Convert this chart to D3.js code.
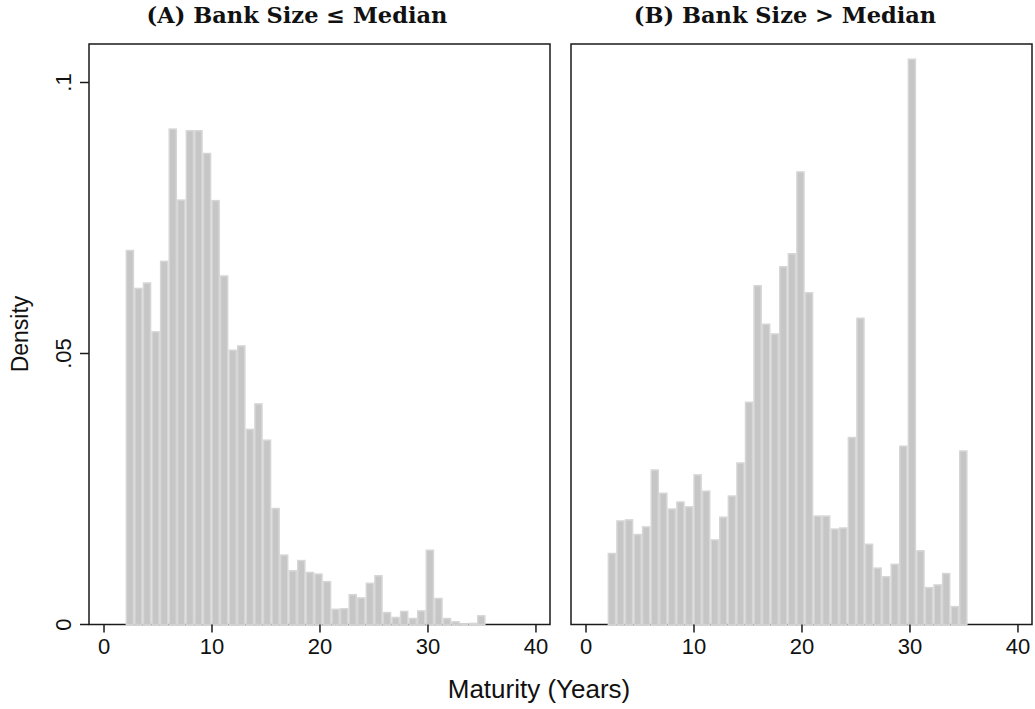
<!DOCTYPE html>
<html>
<head>
<meta charset="utf-8">
<script src="https://cdn.jsdelivr.net/npm/d3@7"></script>
<style>
  body { margin: 0; background: #fff; }
  svg { display: block; }
  .tick-label { font-family: "Liberation Sans", Arial, sans-serif; font-size: 22px; fill: #111; }
  .axis-title { font-family: "Liberation Sans", Arial, sans-serif; font-size: 23px; fill: #111; }
  .panel-title { font-family: "DejaVu Serif", "Liberation Serif", serif; font-weight: bold; font-size: 22.5px; fill: #111; }
</style>
</head>
<body>
<div id="chart"></div>
<script>
// histogram of loan maturity, 42 bins starting at 2 years
const binStart = 2;
const binWidth = 0.7937;

const densitySmall = [0.069, 0.062, 0.063, 0.054, 0.067, 0.0914, 0.0783, 0.0911, 0.0911, 0.0869,
                      0.0782, 0.0643, 0.0506, 0.0514, 0.036, 0.0407, 0.034, 0.0214, 0.0128, 0.0099,
                      0.0118, 0.0096, 0.0093, 0.0079, 0.0028, 0.0029, 0.0055, 0.0049, 0.0076, 0.009,
                      0.0022, 0.0013, 0.0024, 0.0011, 0.0025, 0.0137, 0.0048, 0.0011, 0.0005, 0.0001,
                      0.0002, 0.0016];

const densityLarge = [0.0131, 0.0191, 0.0193, 0.0166, 0.018, 0.0285, 0.0242, 0.0213, 0.0226, 0.0217,
                      0.0276, 0.0246, 0.0156, 0.0198, 0.0237, 0.0298, 0.041, 0.0625, 0.0554, 0.0536,
                      0.066, 0.0684, 0.0835, 0.0612, 0.02, 0.02, 0.0176, 0.0178, 0.0345, 0.0565,
                      0.0148, 0.0104, 0.0088, 0.0111, 0.0329, 0.1043, 0.0136, 0.0068, 0.0073, 0.0094,
                      0.0033, 0.032];

const xTicks = [0, 10, 20, 30, 40];
const yTicks = [0, 0.05, 0.1];
const yTickLabels = ["0", ".05", ".1"];
const panelTitles = ["(A) Bank Size \u2264 Median", "(B) Bank Size > Median"];

const width = 1035, height = 709;
const frameTop = 44, frameBottom = 624.5;

const svg = d3.select('#chart')
              .append('svg')
              .attr('width', width)
              .attr('height', height);

const y = d3.scaleLinear()
            .domain([0, 0.1])
            .range([frameBottom, 82.5]);

const panels = [
    {left: 89, right: 550, titleX: 297, values: densitySmall, yAxis: true},
    {left: 571, right: 1032, titleX: 785, values: densityLarge, yAxis: false}
];

panels.forEach(function(p, pi) {
    const x = d3.scaleLinear()
                .domain([-1.39, 41.3])
                .range([p.left, p.right]);

    const g = svg.append('g');

    // frame
    g.append('rect')
        .attr('x', p.left)
        .attr('y', frameTop)
        .attr('width', p.right - p.left)
        .attr('height', frameBottom - frameTop)
        .style('fill', 'none')
        .style('stroke', '#1a1a1a')
        .style('stroke-width', 1.5);

    const bins = p.values.map(function(v, i) {
        return {x0: binStart + i * binWidth, x1: binStart + (i + 1) * binWidth, value: v};
    });

    g.selectAll()
        .data(bins)
        .enter()
        .append('rect')
            .attr('x', function(d) { return x(d.x0) + 0.75; })
            .attr('y', function(d) { return y(d.value); })
            .attr('width', function(d) { return x(d.x1) - x(d.x0) - 1.5; })
            .attr('height', function(d) { return frameBottom - y(d.value) + 0.5; })
            .style('fill', '#c6c6c6')
            .style('stroke', '#d6d6d6')
            .style('stroke-width', 1.5);

    // x ticks
    g.selectAll()
        .data(xTicks)
        .enter()
        .append('line')
            .attr('x1', function(d) { return x(d); })
            .attr('x2', function(d) { return x(d); })
            .attr('y1', frameBottom)
            .attr('y2', frameBottom + 8)
            .style('stroke', '#1a1a1a')
            .style('stroke-width', 1.5);

    g.selectAll()
        .data(xTicks)
        .enter()
        .append('text')
            .attr('class', 'tick-label')
            .attr('x', function(d) { return x(d); })
            .attr('y', 654)
            .attr('text-anchor', 'middle')
            .text(function(d) { return d; });

    if (p.yAxis) {
        g.selectAll()
            .data(yTicks)
            .enter()
            .append('line')
                .attr('x1', p.left - 9)
                .attr('x2', p.left)
                .attr('y1', function(d) { return y(d); })
                .attr('y2', function(d) { return y(d); })
                .style('stroke', '#1a1a1a')
                .style('stroke-width', 1.5);

        g.selectAll()
            .data(yTicks)
            .enter()
            .append('text')
                .attr('class', 'tick-label')
                .attr('transform', function(d) { return `translate(71,${y(d)}) rotate(-90)`; })
                .attr('text-anchor', 'middle')
                .text(function(d, i) { return yTickLabels[i]; });
    }

    svg.append('text')
        .attr('class', 'panel-title')
        .attr('x', p.titleX)
        .attr('y', 23)
        .attr('text-anchor', 'middle')
        .text(panelTitles[pi]);
});

svg.append('text')
    .attr('class', 'axis-title')
    .attr('transform', 'translate(28,334) rotate(-90)')
    .attr('text-anchor', 'middle')
    .text('Density');

svg.append('text')
    .attr('class', 'axis-title')
    .attr('x', 539)
    .attr('y', 698)
    .attr('text-anchor', 'middle')
    .style('font-size', '26px')
    .text('Maturity (Years)');
</script>
</body>
</html>
